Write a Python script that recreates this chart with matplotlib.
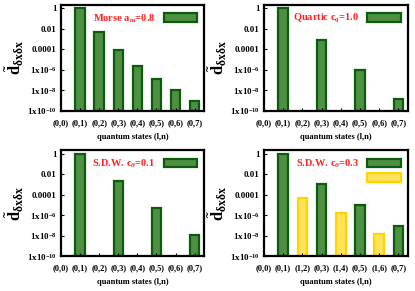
import numpy as np
import matplotlib
matplotlib.use("Agg")
import matplotlib.pyplot as plt
from matplotlib.patches import Patch

plt.rcParams['font.family'] = ['Liberation Serif', 'DejaVu Serif']
plt.rcParams['font.weight'] = 'bold'
plt.rcParams['mathtext.fontset'] = 'custom'
plt.rcParams['mathtext.rm'] = 'Liberation Serif:bold'
plt.rcParams['mathtext.it'] = 'Liberation Serif:italic:bold'
plt.rcParams['mathtext.bf'] = 'Liberation Serif:bold'

# data
states = ['(0,0)', '(0,1)', '(0,2)', '(0,3)', '(0,4)', '(0,5)', '(0,6)', '(0,7)']
states_sdw3 = ['(0,0)', '(0,1)', '(1,2)', '(0,3)', '(1,4)', '(0,5)', '(1,6)', '(0,7)']

morse = [np.nan, 1.0, 5e-3, 8e-5, 2.5e-6, 1.3e-7, 1e-8, 8e-10]
quartic = [np.nan, 1.0, np.nan, 8e-4, np.nan, 9e-7, np.nan, 1.4e-9]
sdw1 = [np.nan, 1.0, np.nan, 2e-3, np.nan, 5e-6, np.nan, 1.1e-8]
sdw3 = [np.nan, 1.0, 5e-5, 1.1e-3, 1.6e-6, 1e-5, 1.4e-8, 8e-8]

titles = [r'Morse a$_{m}$=0.8', r'Quartic c$_{q}$=1.0',
          r'S.D.W. c$_{\theta}$=0.1', r'S.D.W. c$_{\theta}$=0.3']

yticks = [1, 1e-2, 1e-4, 1e-6, 1e-8, 1e-10]
ytick_labels = ['1', '0.01', '0.0001', r'1x10$^{-6}$', r'1x10$^{-8}$', r'1x10$^{-10}$']

GREEN_EDGE = '#0b5d0b'
GREEN_FACE = '#4f8f44'
YEL_EDGE = '#ffd400'
YEL_FACE = '#ffe35a'

fig = plt.figure(figsize=(4.15, 2.91), dpi=100)
positions = [[0.147, 0.619, 0.345, 0.364], [0.636, 0.619, 0.347, 0.364],
             [0.147, 0.120, 0.345, 0.364], [0.636, 0.120, 0.347, 0.364]]
panels = [(morse, states), (quartic, states), (sdw1, states), (sdw3, states_sdw3)]

for i, ((vals, labels), title) in enumerate(zip(panels, titles)):
    ax = fig.add_axes(positions[i])
    x = np.arange(len(labels))
    is_l1 = np.array([lab.startswith('(1') for lab in labels])
    face = [YEL_FACE if f else GREEN_FACE for f in is_l1]
    edge = [YEL_EDGE if f else GREEN_EDGE for f in is_l1]
    ax.bar(x, vals, width=0.5, bottom=1e-10, color=face, edgecolor=edge, linewidth=1.6)
    ax.set_yscale('log')
    ax.set_ylim(1e-10, 2.2)
    ax.set_xlim(0.13, 7.5)
    ax.set_yticks(yticks)
    ax.set_yticklabels(ytick_labels)
    ax.minorticks_off()
    ax.set_xticks(x)
    ax.set_xticklabels(labels)
    ax.tick_params(axis='y', labelsize=6.5, direction='in', length=2, pad=3)
    ax.tick_params(axis='x', labelsize=6, direction='in', length=2, pad=6)
    for lab in ax.get_xticklabels() + ax.get_yticklabels():
        lab.set_fontweight('bold')
    for s in ax.spines.values():
        s.set_linewidth(1.6)
    ax.set_xlabel('quantum states (l,n)', fontsize=6, fontweight='bold', labelpad=4)
    ax.set_ylabel(r'$\tilde{\mathrm{d}}_{\mathrm{\delta x\delta x}}$', fontsize=12, labelpad=1)

    handles = [Patch(facecolor=GREEN_FACE, edgecolor=GREEN_EDGE, linewidth=1.6)]
    hlabels = [title]
    if is_l1.any():
        handles.append(Patch(facecolor=YEL_FACE, edgecolor=YEL_EDGE, linewidth=1.6))
        hlabels.append(' ')
    ax.legend(handles, hlabels, loc='upper right', frameon=False, markerfirst=False,
              fontsize=7.5, labelcolor='#ff2020', handlelength=3.2, handleheight=0.9,
              handletextpad=0.8, borderaxespad=0.3, labelspacing=0.3)

fig.savefig('out.png', dpi=100)
